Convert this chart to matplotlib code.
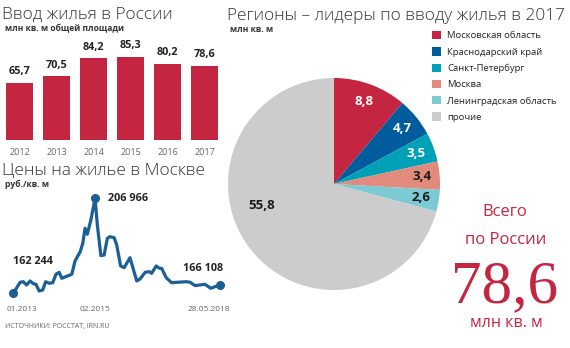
import matplotlib.pyplot as plt
from matplotlib.transforms import blended_transform_factory

plt.rcParams['font.family'] = ['Open Sans', 'DejaVu Sans']

# housing built, mln sq. m
years = ['2012', '2013', '2014', '2015', '2016', '2017']
built = [65.7, 70.5, 84.2, 85.3, 80.2, 78.6]

# Moscow price per sq. m, month index from 01.2013
price_month = [0, 2.1, 3.1, 4.1, 5.2, 6.2, 7.0, 8.0, 9.1, 10.0, 11.1, 12.2, 13.2,
               14.2, 15.0, 16.5, 18.1, 19.1, 20.7, 21.5, 22.2, 22.9, 24.0, 25.3,
               26.0, 27.1, 28.1, 29.1, 29.9, 31.2, 32.0, 33.2, 34.3, 36.1, 38.2,
               39.2, 40.8, 42.1, 42.8, 44.2, 45.2, 45.9, 47.3, 49.0, 50.6, 53.7,
               54.7, 56.3, 57.6, 59.3, 61.1, 62.1, 64.0]
price = [162244, 167425, 167707, 166153, 168037, 166766, 166483, 163327, 163798,
         167707, 166954, 167236, 171193, 172135, 169309, 170251, 171193, 177457,
         181837, 185794, 192859, 190033, 196768, 206966, 194413, 179953, 180283,
         188148, 188902, 188431, 184992, 175102, 174302, 179011, 168037, 168979,
         172135, 172417, 171664, 175102, 174019, 174019, 169591, 167236, 167425,
         167707, 167425, 165824, 166153, 166483, 164599, 165211, 166108]
price_ticks = ['01.2013', '02.2015', '28.05.2018']

# regions 2017
regions = ['Московская область', 'Краснодарский край', 'Санкт-Петербург',
           'Москва', 'Ленинградская область', 'прочие']
region_vals = [8.8, 4.7, 3.5, 3.4, 2.6, 55.8]
region_colors = ['#c42540', '#005c9c', '#00a0b6', '#e08b7d', '#7ccad4', '#cccccc']
label_colors = ['white', 'white', 'white', '#1a1a1a', '#1a1a1a', '#1a1a1a']

RED = '#c42540'
BLUE = '#1b5f96'
DARK = '#333333'
GREY = '#666666'

W, H = 570, 348


def box(x0, y0, x1, y1):
    return [x0 / W, 1 - y1 / H, (x1 - x0) / W, (y1 - y0) / H]


def fx(x):
    return x / W


def fy(y):
    return 1 - y / H


def comma(v, fmt='{:.1f}'):
    return fmt.format(v).replace('.', ',')


fig = plt.figure(figsize=(5.7, 3.48), dpi=100)

# ---- titles
fig.text(fx(2), fy(18.5), 'Ввод жилья в России', fontsize=12.4, weight='light', color=DARK)
fig.text(fx(5), fy(31.5), 'млн кв. м общей площади', fontsize=6.1, weight='bold', color=DARK)
fig.text(fx(2), fy(175.5), 'Цены на жилье в Москве', fontsize=12.4, weight='light', color=DARK)
fig.text(fx(5), fy(187), 'руб./кв. м', fontsize=6.1, weight='bold', color=DARK)
fig.text(fx(227), fy(20.5), 'Регионы – лидеры по вводу жилья в 2017', fontsize=12.4,
         weight='light', color=DARK)
fig.text(fx(230), fy(31.5), 'млн кв. м', fontsize=6.1, weight='bold', color=DARK)
fig.text(fx(5), fy(328), 'ИСТОЧНИКИ: РОССТАТ, IRN.RU', fontsize=5, color=GREY)

# ---- bars
ax1 = fig.add_axes(box(1, 40, 223, 140))
bars = ax1.bar(range(len(years)), built, width=0.72, color=RED, bottom=0)
ax1.set_ylim(22.5, 98)
ax1.set_xlim(-0.5, len(years) - 0.5)
for i, v in enumerate(built):
    ax1.annotate(comma(v), (i, v), xytext=(0, 4), textcoords='offset points',
                 ha='center', va='bottom', fontsize=7.8, weight='bold', color='#222222')
ax1.set_xticks(range(len(years)))
ax1.set_xticklabels(years, fontsize=6.5, color=GREY)
ax1.tick_params(length=0, pad=6)
ax1.set_yticks([])
for s in ax1.spines.values():
    s.set_visible(False)

# ---- price line
ax2 = fig.add_axes(box(5, 190, 225, 300))
ax2.plot(price_month, price, color=BLUE, lw=2.3, solid_joinstyle='round')
peak = price.index(max(price))
for i in [0, peak, len(price) - 1]:
    ax2.plot(price_month[i], price[i], 'o', color=BLUE, ms=5.5)
ax2.set_xlim(-2.57, 65.5)
ax2.set_ylim(159090, 210880)
ax2.annotate('162 244', (price_month[0], price[0]), xytext=(0, 19), textcoords='offset points',
             ha='left', va='bottom', fontsize=7.8, weight='bold', color='#222222')
ax2.annotate('206 966', (price_month[peak], price[peak]), xytext=(9, 0), textcoords='offset points',
             ha='left', va='center', fontsize=7.8, weight='bold', color='#222222')
ax2.annotate('166 108', (price_month[-1], price[-1]), xytext=(2, 8), textcoords='offset points',
             ha='right', va='bottom', fontsize=7.8, weight='bold', color='#222222')
tr = blended_transform_factory(ax2.transData, fig.transFigure)
ax2.text(-2, fy(311), price_ticks[0], transform=tr, ha='left', fontsize=6, color=GREY)
ax2.text(price_month[peak], fy(311), price_ticks[1], transform=tr, ha='center', fontsize=6, color=GREY)
ax2.text(67, fy(311), price_ticks[2], transform=tr, ha='right', fontsize=6, color=GREY)
ax2.axis('off')

# ---- pie
ax3 = fig.add_axes(box(228, 78, 440, 290))
total = sum(region_vals)
wedges, _, autotexts = ax3.pie(region_vals, colors=region_colors, startangle=90, counterclock=False,
                               radius=1, autopct=lambda p: comma(p * total / 100),
                               pctdistance=0.83, wedgeprops=dict(linewidth=0),
                               textprops=dict(fontsize=9.5, weight='bold'))
for t, c in zip(autotexts, label_colors):
    t.set_color(c)
autotexts[-1].set_position((-0.68, -0.2))
ax3.set_xlim(-1, 1)
ax3.set_ylim(-1, 1)
ax3.set_aspect('equal')

fig.legend(wedges, regions, loc='upper left', bbox_to_anchor=(fx(432), fy(31)), frameon=False,
           fontsize=6.8, handlelength=1.0, handleheight=1.0, handletextpad=0.6,
           labelspacing=0.72, borderaxespad=0, borderpad=0, labelcolor='#222222')

# ---- total
fig.text(fx(505), fy(212), 'Всего', fontsize=12, color=RED, ha='center', va='center')
fig.text(fx(506), fy(240), 'по России', fontsize=12, color=RED, ha='center', va='center')
fig.text(fx(505), fy(302), comma(built[-1]), fontsize=44, color=RED, ha='center', va='baseline',
         family='Liberation Serif')
fig.text(fx(506), fy(323), 'млн кв. м', fontsize=11.5, color=RED, ha='center', va='center')

fig.savefig('out.png', dpi=100)
